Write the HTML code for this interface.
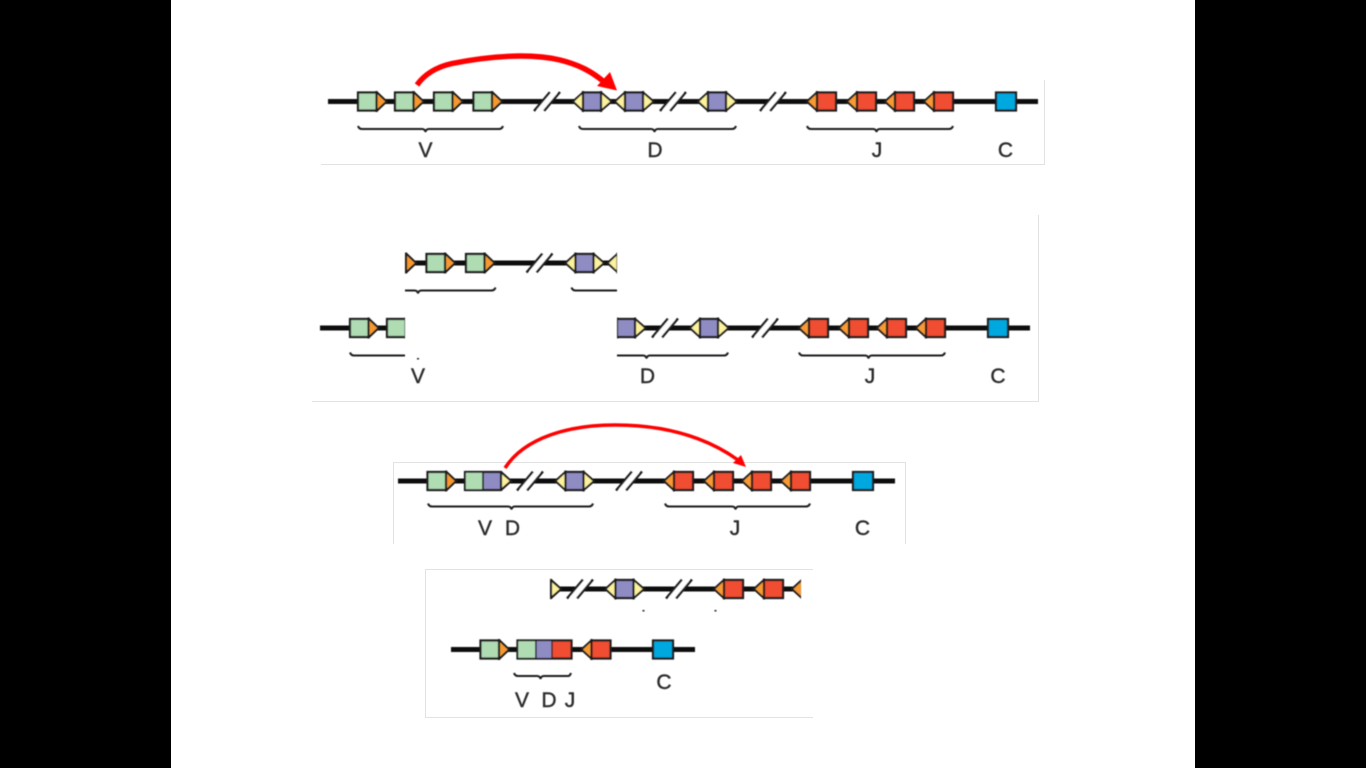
<!DOCTYPE html>
<html><head><meta charset="utf-8"><title>V(D)J recombination</title>
<style>html,body{margin:0;padding:0;background:#000;width:1366px;height:768px;overflow:hidden}svg{display:block}
text{font-family:"Liberation Sans",sans-serif;font-size:21px;fill:#2c2c2c;stroke:#2c2c2c;stroke-width:0.4;text-anchor:middle}</style></head>
<body>
<svg width="1366" height="768" viewBox="0 0 1366 768" xmlns="http://www.w3.org/2000/svg">
<defs>
<filter id="b" x="-5%" y="-5%" width="110%" height="110%"><feGaussianBlur stdDeviation="0.45"/></filter>
<g id="V"><path d="M0 -9H19L28.5 0L19 9H0Z" fill="#b0dcb4" stroke="#1c1c1c" stroke-width="2.2"/><path d="M19 -7.500L27 0L19 7.500Z" fill="#f7982f"/><path d="M18.5 -10.500V10.500" stroke="#1c1c1c" stroke-width="2.2"/></g>
<g id="D"><path d="M10 -9H28L38.5 0L28 9H10L0 0Z" fill="#8f8cc4" stroke="#1c1c1c" stroke-width="2.2"/><path d="M1.500 0L9.500 -7.500V7.500Z M28.500 -7.500L37 0L28.500 7.500Z" fill="#fcf19c"/><path d="M10 -10.500V10.500M28 -10.500V10.500" stroke="#1c1c1c" stroke-width="2.2"/></g>
<g id="J"><path d="M10 -9H29V9H10L0 0Z" fill="#f04e30" stroke="#1c1c1c" stroke-width="2.2"/><path d="M1.500 0L9.500 -7.500V7.500Z" fill="#f79a34"/><path d="M10 -10.500V10.500" stroke="#1c1c1c" stroke-width="2.2"/></g>
<rect id="C" x="0" y="-9" width="20" height="18" fill="#00a8e0" stroke="#1c1c1c" stroke-width="2.2"/>
<g id="S"><path d="M5 9.500L21 -9.500" stroke="#fff" stroke-width="9"/><path d="M0 9.500L16 -9.500M10 9.500L26 -9.500" stroke="#1c1c1c" stroke-width="2.300" fill="none"/></g>

<g id="row1">
<path d="M328 101H1038" stroke="#111" stroke-width="5"/>
<use href="#S" x="534" y="101"/><use href="#S" x="660" y="101"/><use href="#S" x="760" y="101"/>
<use href="#V" x="358" y="101"/><use href="#V" x="395" y="101"/><use href="#V" x="434" y="101"/><use href="#V" x="473.500" y="101"/>
<use href="#D" x="573" y="101"/><use href="#D" x="615" y="101"/><use href="#D" x="698" y="101"/>
<use href="#J" x="807" y="101"/><use href="#J" x="847" y="101"/><use href="#J" x="885" y="101"/><use href="#J" x="924" y="101"/>
<use href="#C" x="996" y="101"/>
<g fill="none" stroke="#1c1c1c" stroke-width="2">
<path d="M358 125.500Q359 128.500 362 128.500H422Q425 128.500 425.500 131.500Q426 128.500 429 128.500H499Q502 128.500 503 125.500"/>
<path d="M579 125.500Q580 128.500 583 128.500H651Q654 128.500 654.500 131.500Q655 128.500 658 128.500H732Q735 128.500 736 125.500"/>
<path d="M807 125.500Q808 128.500 811 128.500H873Q876 128.500 876.500 131.500Q877 128.500 880 128.500H949Q952 128.500 953 125.500"/>
</g>
</g>

<g id="row3">
<path d="M398 481H895" stroke="#111" stroke-width="5"/>
<use href="#S" x="517" y="481"/><use href="#S" x="616" y="481"/>
<use href="#V" x="427.500" y="481"/>
<path d="M465 472H501L511 481L501 490H465Z" fill="#8f8cc4" stroke="#1c1c1c" stroke-width="2.200"/>
<rect x="465" y="472" width="18" height="18" fill="#b0dcb4" stroke="#1c1c1c" stroke-width="1.600"/>
<path d="M501.500 474L509.500 481L501.500 488Z" fill="#fcf19c"/><path d="M501 471V491" stroke="#1c1c1c" stroke-width="2.200"/>
<use href="#D" x="555.500" y="481"/>
<use href="#J" x="664" y="481"/><use href="#J" x="704" y="481"/><use href="#J" x="742" y="481"/><use href="#J" x="781" y="481"/>
<use href="#C" x="853" y="481"/>
<g fill="none" stroke="#1c1c1c" stroke-width="2">
<path d="M428 503.500Q429 506.500 432 506.500H508Q511 506.500 511.500 509.500Q512 506.500 515 506.500H589Q592 506.500 593 503.500"/>
<path d="M665 503.500Q666 506.500 669 506.500H732Q735 506.500 735.500 509.500Q736 506.500 739 506.500H806Q809 506.500 810 503.500"/>
</g>
</g>

<clipPath id="c2a"><rect x="300" y="300" width="105" height="70"/></clipPath>
<clipPath id="c2b"><rect x="617" y="300" width="425" height="70"/></clipPath>
<clipPath id="c2c"><rect x="405" y="235" width="212" height="60"/></clipPath>
<clipPath id="c4"><rect x="550" y="570" width="251" height="38"/></clipPath>
</defs>

<rect x="171" y="0" width="1024" height="768" fill="#fff"/>

<g fill="none" stroke="#e2e2e2" stroke-width="1">
<path d="M321 164.500H1044.500V80"/>
<path d="M312 401.500H1038.500V215"/>
<path d="M393.500 544V462.500H905.500V544"/>
<path d="M813 569.500H425.500V717.500H813"/>
</g>

<g filter="url(#b)">
<use href="#row1" y="0.500"/>
<path d="M417 85C424 75 436 67 452 63.500C490 56 530 53 560 60C580 65 592 72 603 81" fill="none" stroke="#f00" stroke-width="5.500"/>
<path d="M597 86L610 72L617 90.500Z" fill="#f00"/>

<g clip-path="url(#c2a)"><use href="#row1" x="-8" y="227"/></g>
<g clip-path="url(#c2b)"><use href="#row1" x="-8" y="227"/></g>
<g clip-path="url(#c2c)"><use href="#row1" x="-7.500" y="162"/></g>
<rect x="417" y="358" width="2" height="1.500" fill="#222"/>

<use href="#row3"/>
<path d="M505 468C525 437 570 425 615 425C670 425 710 440 738 460" fill="none" stroke="#f00" stroke-width="3.500"/>
<path d="M733 463L741 455L746 467Z" fill="#f00"/>

<g clip-path="url(#c4)"><use href="#row3" x="50" y="108"/></g>
<rect x="642.500" y="610" width="2" height="1.500" fill="#222"/>
<rect x="714.500" y="610" width="2" height="1.500" fill="#222"/>
<path d="M451 649.500H695" stroke="#111" stroke-width="5"/>
<use href="#V" x="480.500" y="649.500"/>
<path d="M517.500 640.500H571.500V658.500H517.500Z" fill="#f04e30" stroke="#1c1c1c" stroke-width="2.200"/>
<rect x="517.500" y="640.500" width="18.500" height="18" fill="#b0dcb4" stroke="#1c1c1c" stroke-width="1.500"/>
<rect x="536" y="640.500" width="16" height="18" fill="#8f8cc4" stroke="#1c1c1c" stroke-width="1.300"/>
<use href="#J" x="581.500" y="649.500"/>
<use href="#C" x="653" y="649.500"/>
<path d="M514 673Q515 676 518 676H537Q540 676 540.500 679Q541 676 544 676H568Q570 676 571 673" fill="none" stroke="#1c1c1c" stroke-width="2"/>
</g>

<g filter="url(#b)">
<text x="425.500" y="157">V</text><text x="655" y="157">D</text><text x="877" y="157">J</text><text x="1005.500" y="157">C</text>
<text x="418" y="383">V</text><text x="647.500" y="383">D</text><text x="870" y="383">J</text><text x="998" y="383">C</text>
<text x="485" y="535">V</text><text x="512.500" y="535">D</text><text x="735" y="535">J</text><text x="862.500" y="535">C</text>
<text x="522" y="707">V</text><text x="549" y="707">D</text><text x="570" y="707">J</text><text x="664" y="689">C</text>
</g>
</svg>
</body></html>
